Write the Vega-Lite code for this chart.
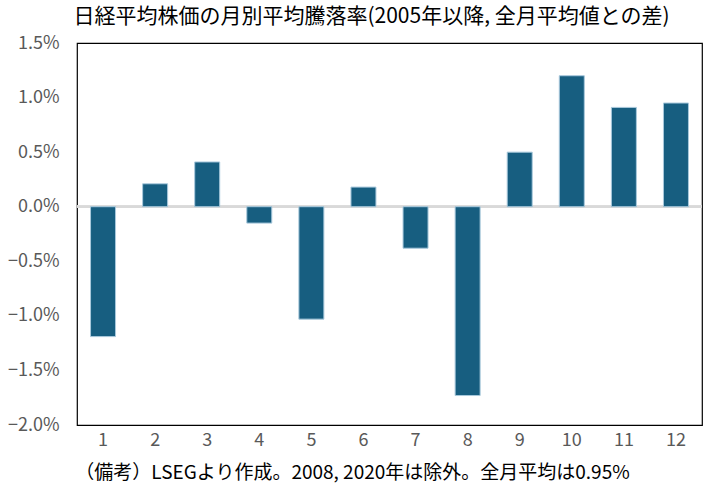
{
  "$schema": "https://vega.github.io/schema/vega-lite/v6.json",
  "width": 625,
  "height": 382,
  "autosize": "none",
  "padding": {"left": 77, "top": 43, "right": 5, "bottom": 68},
  "background": "white",
  "config": {
    "font": "Noto Sans CJK JP",
    "view": {"stroke": "#000000", "strokeWidth": 1.2}
  },
  "title": {
    "text": "日経平均株価の月別平均騰落率(2005年以降, 全月平均値との差)",
    "fontSize": 21,
    "fontWeight": "normal",
    "color": "#000000",
    "anchor": "middle",
    "dx": -18,
    "offset": 7
  },
  "data": {
    "values": [
      {"month": 1, "diff": -0.0119},
      {"month": 2, "diff": 0.0021},
      {"month": 3, "diff": 0.0041},
      {"month": 4, "diff": -0.0015},
      {"month": 5, "diff": -0.0103},
      {"month": 6, "diff": 0.0018},
      {"month": 7, "diff": -0.0038},
      {"month": 8, "diff": -0.0173},
      {"month": 9, "diff": 0.0050},
      {"month": 10, "diff": 0.0120},
      {"month": 11, "diff": 0.0091},
      {"month": 12, "diff": 0.0095}
    ]
  },
  "layer": [
    {
      "mark": {"type": "rule", "color": "#d9d9d9", "strokeWidth": 2},
      "encoding": {"y": {"datum": 0, "type": "quantitative"}}
    },
    {
      "mark": {"type": "bar", "color": "#175e80", "stroke": "#a9c9dc", "strokeWidth": 1},
      "encoding": {
        "x": {
          "field": "month",
          "type": "ordinal",
          "scale": {"paddingInner": 0.52, "paddingOuter": 0.26},
          "axis": {
            "title": "（備考）LSEGより作成。2008, 2020年は除外。全月平均は0.95%",
            "titleFontSize": 19,
            "titleFontWeight": "normal",
            "titleColor": "#000000",
            "titlePadding": 14,
            "titleX": 275,
            "labelAngle": 0,
            "labelFontSize": 18,
            "labelColor": "#595959",
            "labelPadding": 6,
            "ticks": false,
            "domain": false
          }
        },
        "y": {
          "field": "diff",
          "type": "quantitative",
          "scale": {"domain": [-0.02, 0.015], "nice": false},
          "axis": {
            "title": null,
            "format": ".1%",
            "values": [-0.02, -0.015, -0.01, -0.005, 0, 0.005, 0.01, 0.015],
            "labelFontSize": 18,
            "labelColor": "#595959",
            "labelPadding": 18,
            "ticks": false,
            "domain": false,
            "grid": false
          }
        }
      }
    }
  ]
}
